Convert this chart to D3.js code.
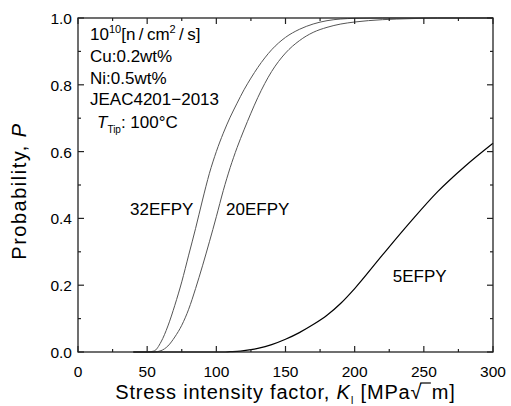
<!DOCTYPE html>
<html>
<head>
<meta charset="utf-8">
<script src="https://cdn.jsdelivr.net/npm/d3@7"></script>
<style>
  body { margin: 0; background: #fff; }
  text { font-family: "Liberation Sans", Arial, sans-serif; fill: #000; }
</style>
</head>
<body>
<div id="viz"></div>
<script>
// stress intensity factor K_I [MPa sqrt(m)]
var kValues = [40, 50, 55, 60, 65, 70, 75, 80, 85, 90, 95, 100, 105, 110, 115, 120, 125, 130,
               140, 150, 160, 170, 180, 190, 200, 220, 240, 260, 280, 300];
// failure probability
var p32 = [0, 0, 0.003, 0.03, 0.078, 0.14, 0.21, 0.29, 0.37, 0.455, 0.535, 0.6, 0.655, 0.703, 0.745, 0.785, 0.82, 0.852,
           0.905, 0.942, 0.966, 0.982, 0.992, 0.997, 0.999, 1, 1, 1, 1, 1];
var p20 = [0, 0, 0, 0.004, 0.018, 0.045, 0.08, 0.128, 0.19, 0.258, 0.33, 0.405, 0.483, 0.552, 0.612, 0.665, 0.715, 0.762,
           0.84, 0.895, 0.932, 0.957, 0.972, 0.982, 0.988, 0.995, 0.998, 1, 1, 1];
var p5  = [0, 0, 0, 0, 0, 0, 0, 0, 0, 0, 0, 0, 0, 0.001, 0.002, 0.004, 0.007, 0.011,
           0.022, 0.038, 0.058, 0.082, 0.11, 0.146, 0.19, 0.29, 0.388, 0.48, 0.557, 0.625];
var seriesNames = ["32EFPY", "20EFPY", "5EFPY"];
var xTicks = [0, 50, 100, 150, 200, 250, 300];
var yTicks = [0, 0.2, 0.4, 0.6, 0.8, 1.0];

var W = 511, H = 406;
var m = {left: 78, right: 18, top: 18, bottom: 54};

var svg = d3.select("#viz").append("svg")
  .attr("width", W).attr("height", H);

var x = d3.scaleLinear().domain([0, 300]).range([m.left, W - m.right]);
var y = d3.scaleLinear().domain([0, 1]).range([H - m.bottom, m.top]);

var x0 = x(0), x1 = x(300), y0 = y(0), y1 = y(1);

// curves first, frame on top
var line = d3.line()
  .x(function(d) { return x(d[0]); })
  .y(function(d) { return y(d[1]); })
  .curve(d3.curveMonotoneX);

var series = [
  {name: seriesNames[0], p: p32, color: "#555", w: 1},
  {name: seriesNames[1], p: p20, color: "#555", w: 1},
  {name: seriesNames[2], p: p5,  color: "#000", w: 1.2}
];
series.forEach(function(s) {
  svg.append("path")
    .datum(kValues.map(function(k, i) { return [k, s.p[i]]; }))
    .attr("d", line)
    .attr("fill", "none")
    .attr("stroke", s.color)
    .attr("stroke-width", s.w);
});

// ticks on all four sides, pointing in
var minorX = d3.range(25, 300, 50), minorY = d3.range(0.1, 1, 0.2);
var tk = svg.append("g").attr("stroke", "#222").attr("stroke-width", 1.2);
xTicks.concat(minorX).forEach(function(v) {
  var len = xTicks.indexOf(v) >= 0 ? 6 : 3;
  tk.append("line").attr("x1", x(v)).attr("x2", x(v)).attr("y1", y0).attr("y2", y0 - len);
  tk.append("line").attr("x1", x(v)).attr("x2", x(v)).attr("y1", y1).attr("y2", y1 + len);
});
yTicks.concat(minorY).forEach(function(v) {
  var len = yTicks.indexOf(v) >= 0 ? 6 : 3;
  tk.append("line").attr("y1", y(v)).attr("y2", y(v)).attr("x1", x0).attr("x2", x0 + len);
  tk.append("line").attr("y1", y(v)).attr("y2", y(v)).attr("x1", x1).attr("x2", x1 - len);
});

svg.append("rect")
  .attr("x", x0).attr("y", y1)
  .attr("width", x1 - x0).attr("height", y0 - y1)
  .attr("fill", "none").attr("stroke", "#222").attr("stroke-width", 1.3);

// tick labels
svg.selectAll(".xl").data(xTicks).enter().append("text")
  .attr("x", function(d) { return x(d); })
  .attr("y", y0 + 25)
  .attr("text-anchor", "middle")
  .style("font-size", "15.5px")
  .text(function(d) { return d; });

svg.selectAll(".yl").data(yTicks).enter().append("text")
  .attr("x", x0 - 6)
  .attr("y", function(d) { return y(d) + 6; })
  .attr("text-anchor", "end")
  .style("font-size", "15.5px")
  .text(function(d) { return d.toFixed(1); });

// axis titles
var xt = svg.append("text")
  .attr("x", (x0 + x1) / 2).attr("y", 399)
  .attr("text-anchor", "middle")
  .style("font-size", "20px")
  .style("letter-spacing", "0.8px");
xt.append("tspan").text("Stress intensity factor, ");
xt.append("tspan").style("font-style", "italic").text("K");
xt.append("tspan").attr("dy", 5).style("font-size", "10px").text("I");
xt.append("tspan").attr("dy", -5).text(" [MPa");
xt.append("tspan").text("√");
xt.append("tspan").text("\u2009\u2009m]");

// overbar of the radical
var node = xt.node();
var txt = node.textContent;
var rb = node.getExtentOfChar(txt.indexOf("√"));
var mb = node.getExtentOfChar(txt.length - 2);
svg.append("line")
  .attr("x1", rb.x + rb.width - 2).attr("x2", mb.x - 1)
  .attr("y1", rb.y + 2).attr("y2", rb.y + 2)
  .attr("stroke", "#000").attr("stroke-width", 1.2);

var yt = svg.append("text")
  .attr("transform", "translate(26," + ((y0 + y1) / 2 + 6) + ") rotate(-90)")
  .attr("text-anchor", "middle")
  .style("font-size", "20px")
  .style("letter-spacing", "1.5px");
yt.append("tspan").text("Probability, ");
yt.append("tspan").style("font-style", "italic").text("P");

// condition notes
var notes = svg.append("g").style("font-size", "17px");
var t1 = notes.append("text").attr("x", 90).attr("y", 40);
t1.append("tspan").text("10");
t1.append("tspan").attr("dy", -7).style("font-size", "11px").text("10");
t1.append("tspan").attr("dy", 7).text("[n\u2009/\u2009cm");
t1.append("tspan").attr("dy", -7).style("font-size", "11px").text("2");
t1.append("tspan").attr("dy", 7).text("\u2009/\u2009s]");
notes.append("text").attr("x", 90).attr("y", 62).text("Cu:0.2wt%");
notes.append("text").attr("x", 90).attr("y", 84).text("Ni:0.5wt%");
notes.append("text").attr("x", 90).attr("y", 105).text("JEAC4201\u22122013");
var t5 = notes.append("text").attr("x", 97).attr("y", 128);
t5.append("tspan").style("font-style", "italic").text("T");
t5.append("tspan").attr("dy", 5).style("font-size", "10px").text("Tip");
t5.append("tspan").attr("dy", -5).text(": 100\u00b0C");

// curve labels
var labelPos = [[37.6, 0.41], [107, 0.41], [227.5, 0.21]];
seriesNames.forEach(function(n, i) {
  svg.append("text")
    .attr("x", x(labelPos[i][0])).attr("y", y(labelPos[i][1]))
    .style("font-size", "17px")
    .text(n);
});
</script>
</body>
</html>
